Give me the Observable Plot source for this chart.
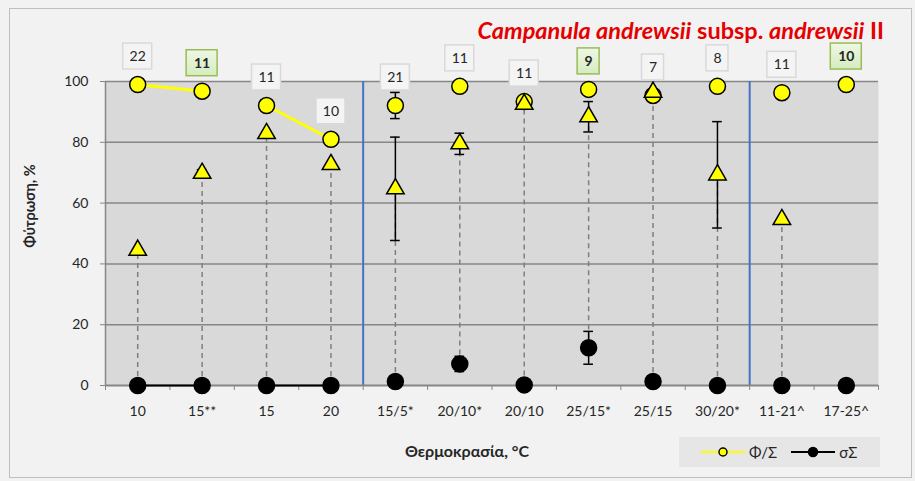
<!DOCTYPE html>
<html><head><meta charset="utf-8">
<script src="https://cdn.jsdelivr.net/npm/d3@7"></script>
<script src="https://cdn.jsdelivr.net/npm/@observablehq/plot@0.6"></script>
<style>
body{margin:0;background:#f2f2f2;font-family:Lato, "Open Sans", sans-serif;}
#wrap{position:relative;width:915px;height:481px;overflow:hidden;}
#border{position:absolute;left:9px;top:8px;width:903px;height:470px;border:1px solid #bfbfbf;box-sizing:border-box;}
#chart{position:absolute;left:0;top:0;}
#title{position:absolute;right:31px;top:19px;font-size:23.5px;font-weight:bold;color:#e60000;line-height:1;white-space:nowrap;}
#ylab{position:absolute;left:29px;top:206px;transform:translate(-50%,-50%) rotate(-90deg);font-size:14.5px;font-weight:bold;color:#262626;white-space:nowrap;}
#xlab{position:absolute;left:467px;top:450px;transform:translate(-50%,-50%);font-size:16px;font-weight:bold;color:#262626;white-space:nowrap;}
#legend{position:absolute;left:679px;top:437px;width:201px;height:30px;background:#e6e6e6;display:flex;align-items:center;font-size:15px;color:#262626;}
#legend .item{display:flex;align-items:center;margin-left:22px;}
#legend .item + .item{margin-left:14px;}
#legend svg{margin-right:4px;}
</style></head><body>
<div id="wrap">
  <div id="border"></div>
  <div id="chart"></div>
  <div id="title"><i>Campanula andrewsii</i> subsp. <i>andrewsii</i> II</div>
  <div id="ylab"></div>
  <div id="xlab"></div>
  <div id="legend"></div>
</div>
<script>
// ---- data ----
const categories = ["10","15**","15","20","15/5*","20/10*","20/10","25/15*","25/15","30/20*","11-21^","17-25^"];
const groups     = ["const","const","const","const","alt","alt","alt","alt","alt","alt","field","field"];
const lineSeg    = ["A","A","B","B",null,null,null,null,null,null,null,null];
// Φ/Σ (yellow circles)
const germ       = [99,96.8,92.1,81,92.1,98.4,93.4,97.4,95.4,98.4,96.3,99];
const germErr    = [0,1.5,0,0,4.3,0,0,0,0,0,1.5,0];
// second series (yellow triangles)
const tri        = [44.5,69.8,82.9,72.7,64.7,79.5,92.5,88.4,96.5,69.3,54.6,null];
const triErr     = [0,1.2,0,0,17,3.5,0,5,0,17.5,0,0];
// σΣ (black circles)
const dead       = [0,0,0,0,1.3,7.1,0.2,12.4,1.3,0,0,0];
const deadErr    = [0,0,0,0,0,2.5,0,5.4,0,0,0,0];
// n labels
const nLabels    = [22,11,11,10,21,11,11,9,7,8,11,10];
const highlight  = [false,true,false,false,false,false,false,true,false,false,false,true];
const yTicks     = [0,20,40,60,80,100];
const seriesNames = ["Φ/Σ","σΣ"];
const yTitle = "Φύτρωση, %";
const xTitle = "Θερμοκρασία, °C";

const rows = categories.map((c,i)=>({i, cat:c, group:groups[i], seg:lineSeg[i],
  germ:germ[i], germErr:germErr[i], tri:tri[i], triErr:triErr[i],
  dead:dead[i], deadErr:deadErr[i], n:nLabels[i], hl:highlight[i], digits:String(nLabels[i]).length}));

const errs = [];
rows.forEach(r=>{
  if(r.germErr>0) errs.push({i:r.i, lo:r.germ-r.germErr, hi:r.germ+r.germErr});
  if(r.tri!=null && r.triErr>0) errs.push({i:r.i, lo:r.tri-r.triErr, hi:r.tri+r.triErr});
  if(r.deadErr>0) errs.push({i:r.i, lo:r.dead-r.deadErr, hi:r.dead+r.deadErr});
});
const caps = errs.flatMap(e=>[{i:e.i,y:e.lo},{i:e.i,y:e.hi}]);
const separators = rows.slice(1).filter((r,k)=>r.group!==rows[k].group).map(r=>r.i-0.5);
const boundaries = d3.range(categories.length+1).map(k=>k-0.5);
const capHalf = 0.075;
const LABEL_DY = -28;

// label box: zero-size rect at the label anchor, expanded by negative insets
function labelBox(data, halfW, bold){
  return Plot.rect(data, {x1:"i", x2:"i", y1:"germ", y2:"germ", dy:LABEL_DY,
    insetLeft:-halfW, insetRight:-halfW, insetTop:-13, insetBottom:-13,
    fill: bold ? "url(#gbox)" : "#f4f4f4", stroke: bold ? "#9bbb59" : "#d9d9d9", strokeWidth:1.5});
}

const chart = Plot.plot({
  width:915, height:481,
  marginLeft:105, marginRight:37, marginTop:81, marginBottom:96,
  style:{background:"transparent", fontFamily:"Lato, 'Open Sans', sans-serif", color:"#262626"},
  x:{type:"linear", domain:[-0.5, categories.length-0.5]},
  y:{domain:[0,100]},
  marks:[
    Plot.frame({fill:"#d9d9d9", stroke:"none"}),
    Plot.gridY({ticks:yTicks.filter(t=>t>0), stroke:"#868686", strokeOpacity:1, strokeWidth:1.5}),
    Plot.ruleX(separators, {stroke:"#4472c4", strokeWidth:2}),
    Plot.ruleY([0], {stroke:"#868686", strokeWidth:2}),
    Plot.ruleX([-0.5], {stroke:"#868686", strokeWidth:1.5}),
    Plot.axisY({ticks:yTicks, tickSize:5, tickPadding:12, stroke:"#868686", fontSize:14, label:null}),
    Plot.axisX({ticks:rows.map(r=>r.i), tickFormat:i=>categories[i], tickSize:0, tickPadding:21, fontSize:14, label:null}),
    Plot.axisX({ticks:boundaries, tickFormat:()=>"", tickSize:5, stroke:"#868686", label:null}),
    Plot.ruleX(rows.filter(r=>r.tri!=null), {x:"i", y1:"dead", y2:"tri", stroke:"#7f7f7f", strokeWidth:1.5, strokeDasharray:"5,4"}),
    Plot.line(rows.filter(r=>r.seg), {x:"i", y:"germ", z:"seg", stroke:"#ffff00", strokeWidth:3}),
    Plot.line(rows.filter(r=>r.seg), {x:"i", y:"dead", z:"seg", stroke:"#000", strokeWidth:2}),
    Plot.ruleX(errs, {x:"i", y1:"lo", y2:"hi", stroke:"#000", strokeWidth:1.5}),
    Plot.ruleY(caps, {y:"y", x1:d=>d.i-capHalf, x2:d=>d.i+capHalf, stroke:"#000", strokeWidth:1.5}),
    Plot.dot(rows, {x:"i", y:"dead", r:8, fill:"#000", stroke:"#000"}),
    Plot.dot(rows, {x:"i", y:"germ", r:8, fill:"#ffff00", stroke:"#000", strokeWidth:1.5}),
    Plot.dot(rows.filter(r=>r.tri!=null), {x:"i", y:"tri", symbol:"triangle", r:6.5, fill:"#ffff00", stroke:"#000", strokeWidth:1.5}),
    labelBox(rows.filter(r=>!r.hl && r.digits===2), 14.5, false),
    labelBox(rows.filter(r=>!r.hl && r.digits===1), 11, false),
    labelBox(rows.filter(r=>r.hl && r.digits===2), 15.5, true),
    labelBox(rows.filter(r=>r.hl && r.digits===1), 11, true),
    Plot.text(rows.filter(r=>!r.hl), {x:"i", y:"germ", text:"n", dy:LABEL_DY, fontSize:14, fill:"#262626"}),
    Plot.text(rows.filter(r=>r.hl), {x:"i", y:"germ", text:"n", dy:LABEL_DY, fontSize:14, fontWeight:"bold", fill:"#262626"})
  ]
});
const NS = "http://www.w3.org/2000/svg";
const defs = document.createElementNS(NS,"defs");
defs.innerHTML = '<linearGradient id="gbox" x1="0" y1="0" x2="0" y2="1"><stop offset="0" stop-color="#eef7e4"/><stop offset="1" stop-color="#d5ecbf"/></linearGradient>';
chart.insertBefore(defs, chart.firstChild);
document.getElementById("chart").appendChild(chart);

document.getElementById("ylab").textContent = yTitle;
document.getElementById("xlab").textContent = xTitle;
const legend = document.getElementById("legend");
const lg = [
  {name:seriesNames[0], line:"#ffff00", fill:"#ffff00", stroke:"#000", r:4},
  {name:seriesNames[1], line:"#000", fill:"#000", stroke:"#000", r:4.5}
];
lg.forEach(s=>{
  const it = document.createElement("div"); it.className="item";
  it.innerHTML = `<svg width="44" height="14"><line x1="0" x2="44" y1="7" y2="7" stroke="${s.line}" stroke-width="2"/><circle cx="22" cy="7" r="${s.r}" fill="${s.fill}" stroke="${s.stroke}" stroke-width="1.5"/></svg><span>${s.name}</span>`;
  legend.appendChild(it);
});
</script>
</body></html>
